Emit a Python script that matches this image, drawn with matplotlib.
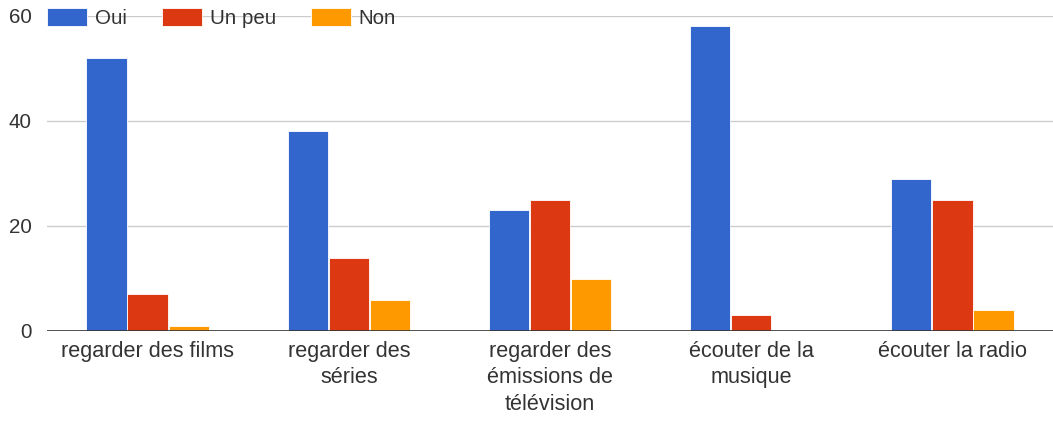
import numpy as np
import matplotlib
matplotlib.use("Agg")
import matplotlib.pyplot as plt

# Données
categories = [
    "regarder des films",
    "regarder des\nséries",
    "regarder des\némissions de\ntélévision",
    "écouter de la\nmusique",
    "écouter la radio",
]
series_names = ["Oui", "Un peu", "Non"]
oui = [52, 38, 23, 58, 29]
un_peu = [7, 14, 25, 3, 25]
non = [1, 6, 10, 0, 4]
y_ticks = [0, 20, 40, 60]

colors = ["#3366CC", "#DC3912", "#FF9900"]

plt.rcParams["font.family"] = ["Liberation Sans", "DejaVu Sans"]
fs = 14.8

fig = plt.figure(figsize=(10.53, 4.21), dpi=100)
ax = fig.add_axes([47 / 1053, 1 - 331 / 421, 1 - 47 / 1053, (331 - 16) / 421])

x = np.arange(len(categories))
width = 0.2
step = 0.204
for i, (vals, name, col) in enumerate(zip([oui, un_peu, non], series_names, colors)):
    ax.bar(x + (i - 1) * step, vals, width, color=col, label=name,
           edgecolor="white", linewidth=0.6, zorder=3)

ax.set_xlim(-0.5, len(categories) - 0.5)
ax.set_ylim(0, 60)
ax.set_yticks(y_ticks)
ax.set_xticks(x)
ax.set_xticklabels(categories, linespacing=1.36, fontsize=15.6)

# Grille façon Google Charts
for t in y_ticks[1:]:
    ax.axhline(t, color="#cccccc", linewidth=1, zorder=1)
ax.axhline(0, color="#333333", linewidth=1.2, zorder=4)

for s in ax.spines.values():
    s.set_visible(False)
ax.tick_params(axis="both", length=0, colors="#333333")
ax.tick_params(axis="y", pad=11, labelsize=fs)
ax.tick_params(axis="x", pad=7)

leg = fig.legend(loc="center left", bbox_to_anchor=(47 / 1053, 1 - 18 / 421),
                 ncol=3, frameon=False, fontsize=fs,
                 handlelength=1.95, handleheight=0.95, handletextpad=0.38,
                 columnspacing=1.7, borderaxespad=0, borderpad=0)
for t in leg.get_texts():
    t.set_color("#333333")

fig.savefig("out.png", dpi=100)
